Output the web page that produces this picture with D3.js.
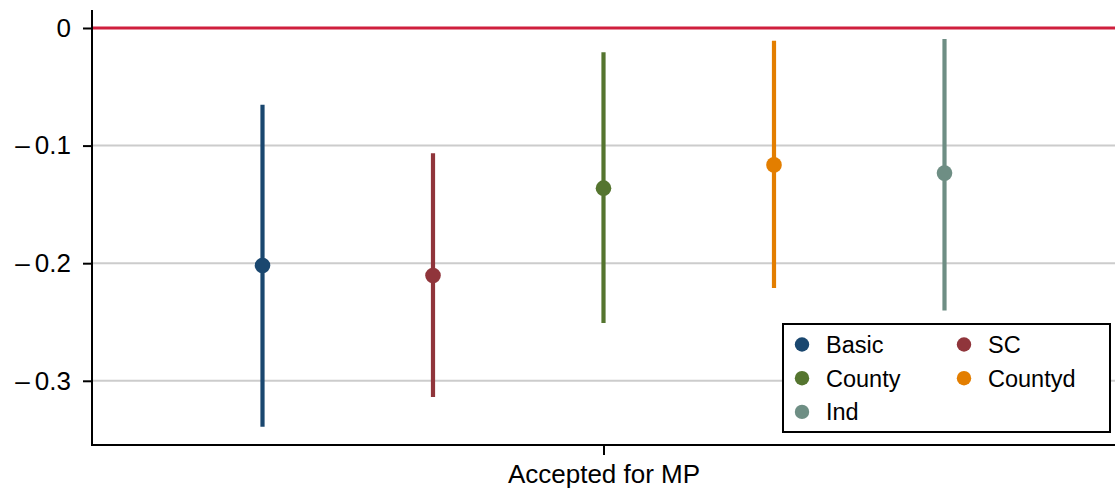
<!DOCTYPE html>
<html>
<head>
<meta charset="utf-8">
<script src="https://cdn.jsdelivr.net/npm/d3@7"></script>
<style>
  html, body { margin: 0; padding: 0; background: #fff; }
  svg { display: block; font-family: "Liberation Sans", Arial, Helvetica, sans-serif; }
</style>
</head>
<body>
<svg id="chart" width="1115" height="498"></svg>
<script>
// Coefficient estimates with 95% confidence intervals, one per specification
const models   = ["Basic", "SC", "County", "Countyd", "Ind"];
const estimate = [-0.202, -0.2105, -0.1362, -0.1164, -0.1234];
const ciLow    = [-0.339, -0.3138, -0.2509, -0.2212, -0.2402];
const ciHigh   = [-0.0652, -0.1065, -0.0206, -0.0108, -0.0093];
const colors   = ["#1a476f", "#90353b", "#55752f", "#e37e00", "#6e8e84"];
const offsets  = [-2, -1, 0, 1, 2];
const yTicks   = [0, -0.1, -0.2, -0.3];
const yTickLabels = ["0", "\u2013\u20090.1", "\u2013\u20090.2", "\u2013\u20090.3"];
const xLabel   = "Accepted for MP";

(function () {
const svg = d3.select("#chart");
const plotLeft = 92, plotRight = 1115, plotTop = 10, plotBottom = 445;

const y = d3.scaleLinear().domain([-0.3546, 0.0153]).range([plotBottom, plotTop]);
const x = d3.scaleLinear().domain([-3, 3]).range([plotLeft, plotRight]);

// horizontal grid lines
svg.append("g").selectAll("line")
  .data(yTicks.filter(d => d !== 0))
  .join("line")
  .attr("x1", plotLeft).attr("x2", plotRight)
  .attr("y1", d => y(d)).attr("y2", d => y(d))
  .attr("stroke", "#cccccc").attr("stroke-width", 2);

// reference line at zero
svg.append("line")
  .attr("x1", plotLeft).attr("x2", plotRight)
  .attr("y1", y(0)).attr("y2", y(0))
  .attr("stroke", "#cf1f3d").attr("stroke-width", 3);

// y axis
const yAxis = d3.axisLeft(y)
  .tickValues(yTicks)
  .tickFormat((d, i) => yTickLabels[i])
  .tickSize(9).tickPadding(12);
const gy = svg.append("g").attr("transform", `translate(${plotLeft},0)`).call(yAxis);
gy.select(".domain").remove();
gy.selectAll(".tick line").attr("stroke", "#000").attr("stroke-width", 2);
gy.selectAll(".tick text").attr("font-size", 26).attr("fill", "#000")
  .attr("font-family", "Liberation Sans, Arial, sans-serif");
svg.append("line").attr("x1", plotLeft).attr("x2", plotLeft).attr("y1", plotTop).attr("y2", plotBottom + 1)
  .attr("stroke", "#000").attr("stroke-width", 2);

// x axis
const xAxis = d3.axisBottom(x).tickValues([0]).tickFormat(() => xLabel).tickSize(10).tickPadding(10);
const gx = svg.append("g").attr("transform", `translate(0,${plotBottom})`).call(xAxis);
gx.select(".domain").remove();
gx.selectAll(".tick line").attr("stroke", "#000").attr("stroke-width", 2);
gx.selectAll(".tick text").attr("font-size", 26).attr("fill", "#000")
  .attr("font-family", "Liberation Sans, Arial, sans-serif");
svg.append("line").attr("x1", plotLeft - 1).attr("x2", plotRight).attr("y1", plotBottom).attr("y2", plotBottom)
  .attr("stroke", "#000").attr("stroke-width", 2);

// confidence intervals and point estimates
const data = models.map((m, i) => ({
  m, est: estimate[i], lo: ciLow[i], hi: ciHigh[i], c: colors[i], off: offsets[i]
}));
const g = svg.append("g");
g.selectAll("line.ci").data(data).join("line")
  .attr("class", "ci")
  .attr("x1", d => x(d.off)).attr("x2", d => x(d.off))
  .attr("y1", d => y(d.lo)).attr("y2", d => y(d.hi))
  .attr("stroke", d => d.c).attr("stroke-width", 4.2);
g.selectAll("circle").data(data).join("circle")
  .attr("cx", d => x(d.off)).attr("cy", d => y(d.est))
  .attr("r", 7.8).attr("fill", d => d.c);

// legend
const lg = svg.append("g");
lg.append("rect").attr("x", 783).attr("y", 324).attr("width", 327).attr("height", 108)
  .attr("fill", "#fff").attr("stroke", "#000").attr("stroke-width", 2);
const items = lg.selectAll("g.item").data(data).join("g")
  .attr("class", "item")
  .attr("transform", (d, i) => `translate(${i % 2 === 0 ? 802 : 964},${344.5 + Math.floor(i / 2) * 33.7})`);
items.append("circle").attr("r", 7.2).attr("fill", d => d.c);
items.append("text").attr("x", 24).attr("dy", "0.36em")
  .attr("font-size", 23.5).attr("fill", "#000").text(d => d.m);
})();
</script>
</body>
</html>
